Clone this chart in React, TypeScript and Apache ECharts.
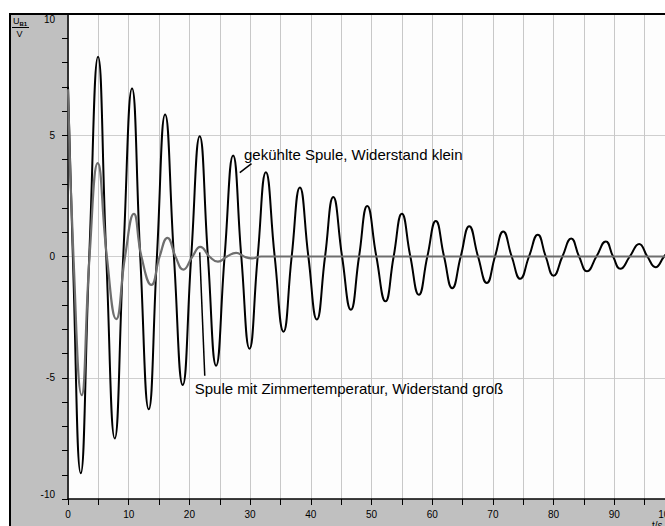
import React, { useEffect, useRef } from "react";
import * as echarts from "echarts";

// Gedämpfte Schwingung im Schwingkreis: Spannung U_B1 über der Zeit t.
// Stützstellen: Extremwerte und Nulldurchgänge der Messkurven.

// gekühlte Spule, Widerstand klein
const tCold = [
  0, 0.8, 2.1, 3.5, 4.95, 6.3, 7.7, 9.1, 10.55, 11.9, 13.3, 14.65, 16.0, 17.45,
  18.9, 20.3, 21.7, 23.05, 24.4, 25.8, 27.2, 28.55, 29.9, 31.25, 32.6, 34.05,
  35.5, 36.85, 38.2, 39.6, 41.0, 42.35, 43.7, 45.15, 46.6, 47.95, 49.3, 50.8,
  52.3, 53.65, 55.0, 56.4, 57.8, 59.2, 60.6, 61.95, 63.3, 64.7, 66.1, 67.55,
  69.0, 70.35, 71.7, 73.1, 74.5, 75.95, 77.4, 78.7, 80.0, 81.45, 82.9, 84.2,
  85.5, 87.05, 88.6, 89.8, 91.0, 92.55, 94.1, 95.45, 96.8, 98.2, 99.6,
];
const uCold = [
  7.0, 0, -8.94, 0, 8.24, 0, -7.5, 0, 6.93, 0, -6.3, 0, 5.86, 0, -5.3, 0, 4.96,
  0, -4.5, 0, 4.17, 0, -3.8, 0, 3.47, 0, -3.1, 0, 2.85, 0, -2.6, 0, 2.45, 0,
  -2.2, 0, 2.08, 0, -1.85, 0, 1.76, 0, -1.58, 0, 1.46, 0, -1.31, 0, 1.25, 0,
  -1.09, 0, 1.03, 0, -0.92, 0, 0.9, 0, -0.79, 0, 0.74, 0, -0.61, 0, 0.62, 0,
  -0.51, 0, 0.52, 0, -0.44, 0, 0.4,
];

// Spule mit Zimmertemperatur, Widerstand groß
const tWarm = [
  0, 0.9, 2.25, 3.55, 4.9, 6.4, 7.95, 9.4, 10.85, 12.1, 13.75, 15.1, 16.4, 17.7,
  19.0, 20.5, 21.8, 23.3, 24.7, 26.2, 27.7, 29.0, 30.3, 31.8, 100,
];
const uWarm = [
  6.9, 0, -5.72, 0, 3.85, 0, -2.58, 0, 1.76, 0, -1.17, 0, 0.77, 0, -0.54, 0,
  0.4, 0, -0.21, 0, 0.15, 0, -0.08, 0, 0,
];

const xTicks = { min: 0, max: 100, step: 10 };
const yTicks = { min: -10, max: 10, step: 5 };

// Beschriftungen mit Hinweislinie (Koordinaten in t / U)
const notes = [
  {
    text: "gekühlte Spule, Widerstand klein",
    at: [29.0, 4.21],
    from: [28.3, 3.46],
    to: [30.23, 3.83],
  },
  {
    text: "Spule mit Zimmertemperatur, Widerstand groß",
    at: [20.88, -5.43],
    from: [22.53, -4.92],
    to: [21.7, 0.17],
  },
];

const W = 665;
const H = 526;
// the plot runs on past the right edge of the frame and is clipped there
const CHART_W = 685;
const PANEL = "#c0c0c0";
const FONT = "'Liberation Sans', Arial, sans-serif";

export default function App() {
  const ref = useRef<HTMLDivElement>(null);

  useEffect(() => {
    if (!ref.current) return;
    const chart = echarts.init(ref.current, undefined, { renderer: "svg" });

    const pairs = (t: number[], u: number[]) => t.map((x, i) => [x, u[i]]);

    chart.setOption({
      animation: false,
      backgroundColor: "transparent",
      grid: {
        left: 68,
        top: 14,
        right: 10,
        bottom: 27,
        show: true,
        backgroundColor: "#fdfdfd",
        borderWidth: 0,
      },
      xAxis: {
        type: "value",
        min: xTicks.min,
        max: xTicks.max,
        interval: xTicks.step,
        axisLine: { show: true, onZero: false, lineStyle: { color: "#000", width: 1.5 } },
        axisTick: { show: true, length: 6, lineStyle: { color: "#000", width: 1 } },
        minorTick: { show: true, splitNumber: 2, length: 6, lineStyle: { color: "#000", width: 1 } },
        splitLine: { show: true, lineStyle: { color: "#c8c8c8", width: 1 } },
        minorSplitLine: { show: true, lineStyle: { color: "#c8c8c8", width: 1 } },
        axisLabel: {
          color: "#000",
          fontFamily: FONT,
          fontSize: 10,
          margin: 10,
          alignMaxLabel: "right",
        },
      },
      yAxis: {
        type: "value",
        min: yTicks.min,
        max: yTicks.max,
        interval: yTicks.step,
        axisLine: { show: true, lineStyle: { color: "#000", width: 1.5 } },
        axisTick: { show: true, length: 6, lineStyle: { color: "#000", width: 1 } },
        minorTick: { show: true, splitNumber: 5, length: 6, lineStyle: { color: "#000", width: 1 } },
        splitLine: { show: true, lineStyle: { color: "#cfcfcf", width: 1 } },
        axisLabel: {
          color: "#000",
          fontFamily: FONT,
          fontSize: 10,
          margin: 13,
          verticalAlignMaxLabel: "top",
          verticalAlignMinLabel: "bottom",
        },
      },
      series: [
        {
          type: "line",
          data: pairs(tCold, uCold),
          smooth: 0.5,
          showSymbol: false,
          lineStyle: { color: "#000", width: 2 },
          z: 2,
        },
        {
          type: "line",
          data: pairs(tWarm, uWarm),
          smooth: 0.5,
          showSymbol: false,
          lineStyle: { color: "#6e6e6e", width: 2.2 },
          z: 3,
        },
      ],
    });

    const px = (p: number[]) =>
      chart.convertToPixel({ xAxisIndex: 0, yAxisIndex: 0 }, p) as number[];

    const noteGraphics: any[] = [];
    notes.forEach((n) => {
      const a = px(n.at);
      const f = px(n.from);
      const t = px(n.to);
      noteGraphics.push({
        type: "line",
        shape: { x1: f[0], y1: f[1], x2: t[0], y2: t[1] },
        style: { stroke: "#000", lineWidth: 1.5 },
        z: 10,
      });
      noteGraphics.push({
        type: "text",
        x: a[0],
        y: a[1],
        style: {
          text: n.text,
          fill: "#000",
          font: `15px ${FONT}`,
          verticalAlign: "middle",
          align: "left",
        },
        z: 10,
      });
    });

    chart.setOption({
      graphic: [
        // Achsenbeschriftung U_B1 / V
        {
          type: "text",
          x: 13,
          y: 16,
          style: { text: "U", fill: "#000", font: `9px ${FONT}`, verticalAlign: "top" },
        },
        {
          type: "text",
          x: 19.5,
          y: 21,
          style: { text: "B1", fill: "#000", font: `bold 6px ${FONT}`, verticalAlign: "top" },
        },
        {
          type: "line",
          shape: { x1: 12, y1: 27.5, x2: 29, y2: 27.5 },
          style: { stroke: "#000", lineWidth: 1 },
        },
        {
          type: "text",
          x: 16.5,
          y: 29,
          style: { text: "V", fill: "#000", font: `9px ${FONT}`, verticalAlign: "top" },
        },
        {
          type: "text",
          x: 652,
          y: 520,
          style: { text: "t/s", fill: "#000", font: `10px ${FONT}`, verticalAlign: "top" },
        },
        ...noteGraphics,
      ],
    });

    return () => chart.dispose();
  }, []);

  return (
    <div
      style={{
        position: "absolute",
        left: 0,
        top: 0,
        width: W,
        height: H,
        overflow: "hidden",
        background: "#fff",
      }}
    >
      <div style={{ position: "absolute", left: 9, top: 13, width: 59, height: H - 13, background: PANEL }} />
      <div style={{ position: "absolute", left: 68, top: 499, width: CHART_W - 68, height: 27, background: PANEL }} />
      <div ref={ref} style={{ position: "absolute", left: 0, top: 0, width: CHART_W, height: H }} />
      <div style={{ position: "absolute", left: 9, top: 13, width: CHART_W - 9, height: 2, background: "#000" }} />
      <div style={{ position: "absolute", left: 9, top: 13, width: 2, height: H - 13, background: "#000" }} />
    </div>
  );
}
